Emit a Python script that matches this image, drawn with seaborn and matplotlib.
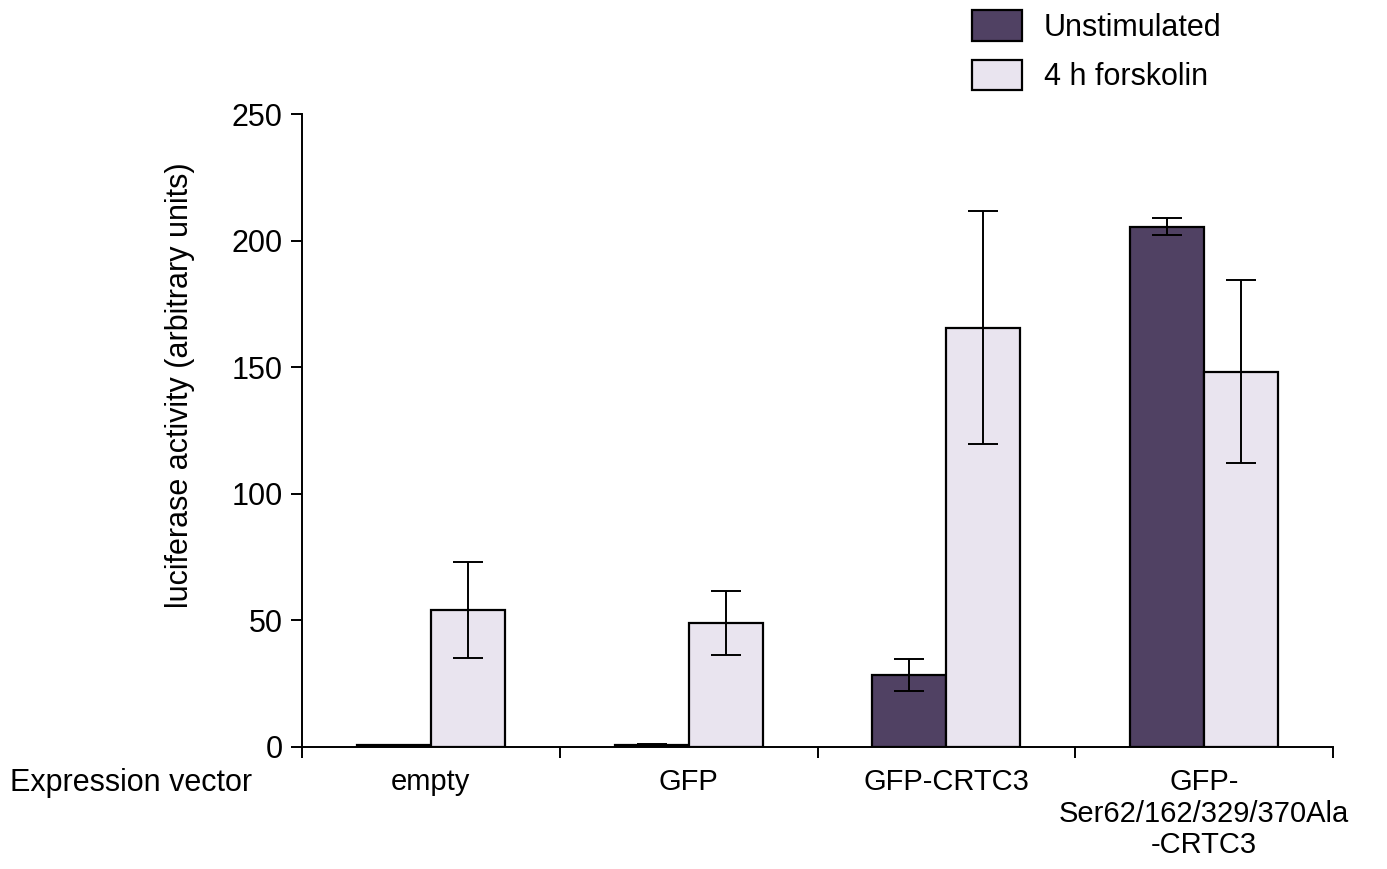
import pandas as pd
import numpy as np
import matplotlib
matplotlib.use("Agg")
import matplotlib.pyplot as plt
import seaborn as sns

vectors = ["empty", "GFP", "GFP-CRTC3", "GFP-\nSer62/162/329/370Ala\n-CRTC3"]
conditions = ["Unstimulated", "4 h forskolin"]
unstim_mean = [0.6, 0.9, 28.5, 205.5]
unstim_err = [0.2, 0.3, 6.2, 3.4]
forsk_mean = [54.0, 49.0, 165.5, 148.3]
forsk_err = [19.0, 12.5, 46.0, 36.0]
colors = ["#504163", "#E9E4EF"]

df = pd.DataFrame({
    "vector": vectors * 2,
    "condition": [conditions[0]] * 4 + [conditions[1]] * 4,
    "value": unstim_mean + forsk_mean,
})
errs = [unstim_err, forsk_err]

sns.set_style("white")
plt.rcParams["font.family"] = ["Liberation Sans", "DejaVu Sans"]
plt.rcParams["font.size"] = 22
plt.rcParams["text.color"] = "black"
plt.rcParams["xtick.color"] = "black"
plt.rcParams["ytick.color"] = "black"
plt.rcParams["axes.labelcolor"] = "black"

fig = plt.figure(figsize=(13.87, 8.69), dpi=100)
ax = fig.add_axes([302 / 1387, 1 - 747 / 869, 1031 / 1387, 633 / 869])

sns.barplot(df, x="vector", y="value", hue="condition", palette=colors,
            width=0.574, edgecolor="black", linewidth=1.6, errorbar=None,
            saturation=1, ax=ax)

for cont, err in zip(ax.containers, errs):
    xs = [p.get_x() + p.get_width() / 2 for p in cont.patches]
    hs = [p.get_height() for p in cont.patches]
    ax.errorbar(xs, hs, yerr=err, fmt="none", ecolor="black",
                elinewidth=1.4, capsize=11, capthick=1.4, zorder=5)

ax.set_xlim(-0.5, 3.5)
ax.set_ylim(0, 250)
ax.set_yticks([0, 50, 100, 150, 200, 250])
ax.set_xlabel("")
ax.set_ylabel("luciferase activity (arbitrary units)", fontsize=22)
ax.yaxis.set_label_coords(-107 / 1031, (747 - 385) / 633)
for s in ["top", "right"]:
    ax.spines[s].set_visible(False)
for s in ["left", "bottom"]:
    ax.spines[s].set_linewidth(1.4)
    ax.spines[s].set_color("black")

ax.tick_params(axis="y", direction="out", length=8, width=1.4, left=True,
               pad=6, labelsize=22)
ax.tick_params(axis="x", which="major", length=0, pad=15, labelsize=21)
ax.set_xticks(np.arange(-0.5, 4.0, 1.0), minor=True)
ax.tick_params(axis="x", which="minor", direction="out", length=8, width=1.4, bottom=True)
for lbl in ax.get_xticklabels():
    lbl.set_linespacing(1.17)

fig.text(10 / 1387, 1 - 783 / 869, "Expression vector", fontsize=22,
         ha="left", va="center")

leg = ax.legend(loc="upper left", bbox_to_anchor=(972 / 1387, 1 - 10 / 869),
                bbox_transform=fig.transFigure, frameon=False, fontsize=22,
                handlelength=1.64, handleheight=1.17, handletextpad=0.72,
                labelspacing=0.55, borderaxespad=0, borderpad=0)

fig.savefig("out.png", dpi=100)
